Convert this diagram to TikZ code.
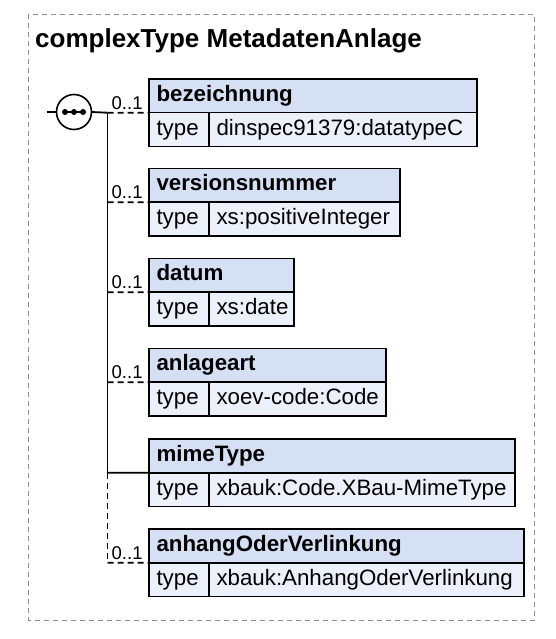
\documentclass[tikz,border=0pt]{standalone}
\usepackage{fontspec}
\setmainfont{Liberation Sans}
\usepackage{tikz}
\usepackage{xcolor}
\usetikzlibrary{positioning, calc}
\definecolor{cHead}{RGB}{214,224,245}
\definecolor{cRow}{RGB}{235,240,250}
\definecolor{cFrame}{RGB}{140,140,140}
\tikzset{
	outerframe/.style={draw=cFrame, line width=0.9pt, dash pattern=on 5pt off 4pt},
	hdr/.style       ={rectangle, draw=black, line width=1.6pt, fill=cHead, anchor=north west, minimum height=33.7pt, inner xsep=7.5pt, inner ysep=0pt, outer sep=0pt, align=left, text height=16pt, text depth=5pt, font=\fontsize{22.3}{25}\selectfont\bfseries},
	typecell/.style  ={hdr, fill=cRow, font=\fontsize{22.3}{25}\selectfont},
	mult/.style      ={anchor=base west, inner sep=0pt, font=\fontsize{18.5}{20}\selectfont},
	wire/.style      ={line width=1.8pt},
	optwire/.style   ={wire, dash pattern=on 6pt off 4pt},
	compositor/.style={circle, draw=black, line width=1.6pt, fill=white, minimum size=35pt, inner sep=0pt, outer sep=0pt},
}

\begin{document}
\begin{tikzpicture}[x=1pt, y=-1pt]
	\useasboundingbox (0,0) rectangle (555,639);
	\draw[outerframe] (28.3,14.3) rectangle (534.3,620);
	\node[anchor=base west, inner sep=0pt, font=\fontsize{26}{30}\selectfont\bfseries] (title) at (35,47.5) {complexType MetadatenAnlage};
	% sequence compositor
	\node[compositor] (seq) at (74,112) {};
	\coordinate (in) at (46.7,112);
	\draw[wire] (in) -- (seq.west);
	\draw[line width=1.5pt] ([xshift=-12pt]seq.center) -- ([xshift=12pt]seq.center);
	\foreach \dx in {-9,0,9}
		\fill ([xshift=\dx pt]seq.center) circle (3pt);
	% child elements
	\foreach \i/\nm/\ty/\yt/\xr/\st in {
			1/bezeichnung/dinspec91379:datatypeC/79/477/optwire,
			2/versionsnummer/xs:positiveInteger/168.5/400/optwire,
			3/datum/xs:date/258.5/294/optwire,
			4/anlageart/xoev-code:Code/348.5/386/optwire,
			5/mimeType/xbauk:Code.XBau-MimeType/439/515/wire,
			6/anhangOderVerlinkung/xbauk:AnhangOderVerlinkung/529/524/optwire} {
		\pgfmathsetmacro\hw{\xr-149}
		\pgfmathsetmacro\htw{\xr-149-15}
		\pgfmathsetmacro\vw{\xr-209}
		\pgfmathsetmacro\vtw{\xr-209-15}
		\coordinate (j\i) at (107.5,\yt+33.7);
		\node[hdr, minimum width=\hw pt, text width=\htw pt] (h\i) at (149,\yt) {\mbox{\nm}};
		\node[typecell, minimum width=60pt, text width=45pt] (t\i) at (h\i.south west) {type};
		\node[typecell, minimum width=\vw pt, text width=\vtw pt] (v\i) at (t\i.north east) {\mbox{\ty}};
		\draw[\st] (j\i) -- (t\i.north west);
	}
	\foreach \i in {1,2,3,4,6}
		\node[mult] (m\i) at ($(j\i)+(4,-3.5)$) {0..1};
	% trunk
	\draw[wire] (seq.east) -- (j1);
	\draw[wire] (j1) -- (j5);
	\draw[optwire] (j5) -- (j6);
\end{tikzpicture}
\end{document}
